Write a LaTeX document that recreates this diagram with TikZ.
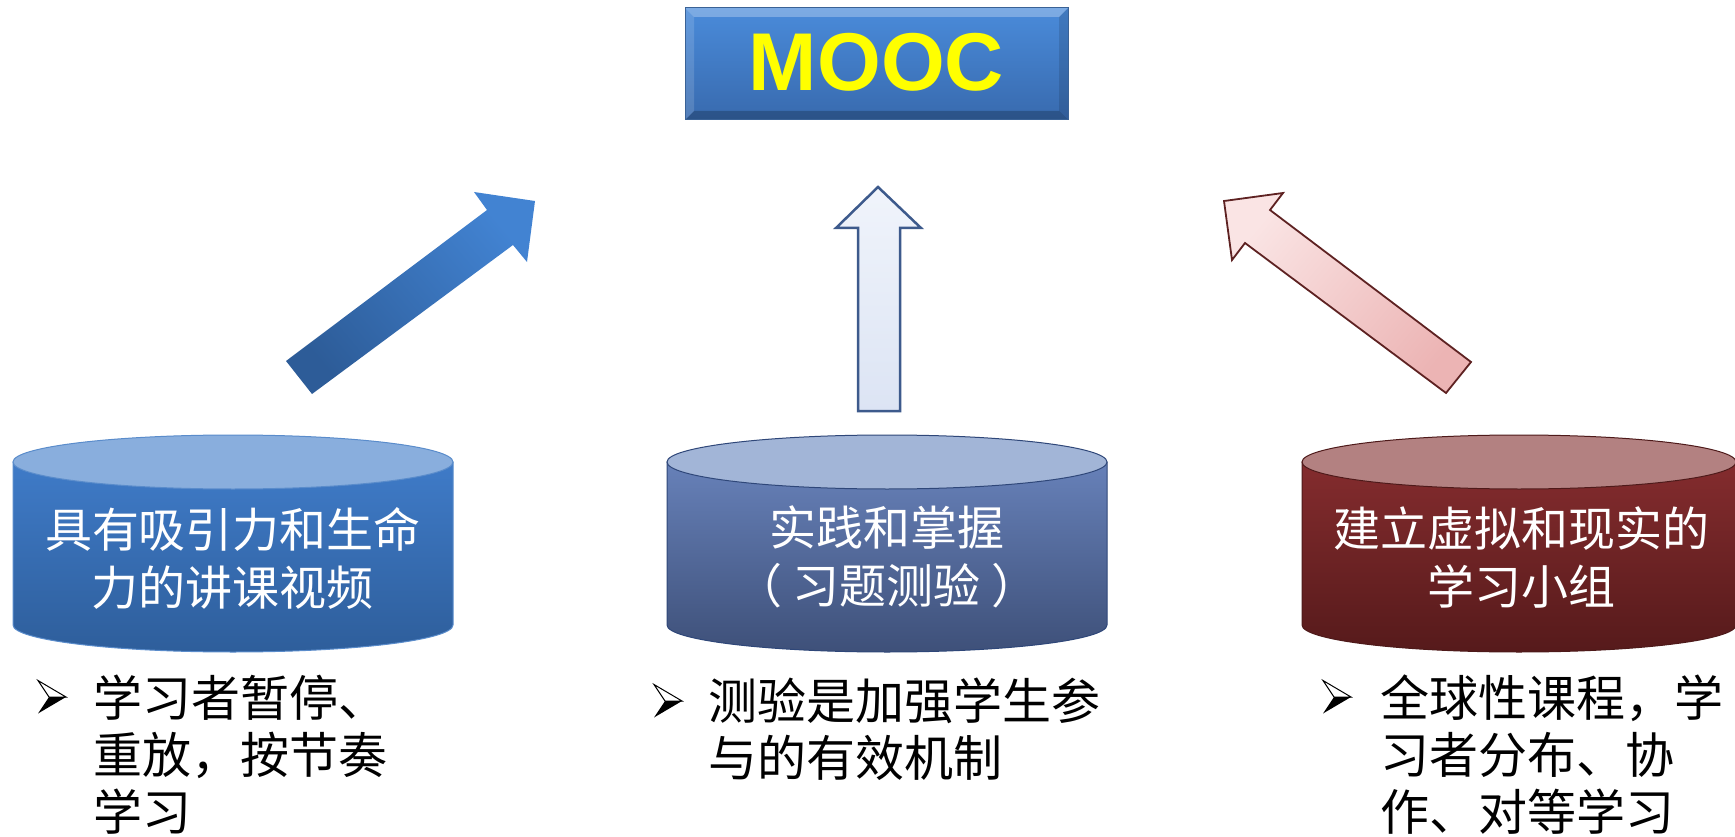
\documentclass[tikz,border=0pt]{standalone}
\usepackage{fontspec}
\newfontfamily\cjk{Noto Sans CJK SC}
\newfontfamily\latinsans{Liberation Sans}
\definecolor{lbtop}{HTML}{3F7BC8}
\definecolor{lbbot}{HTML}{2E5E9B}
\definecolor{lbcap}{HTML}{89AEDD}
\definecolor{lbline}{HTML}{5A8CCB}
\definecolor{mbtop}{HTML}{6781B9}
\definecolor{mbbot}{HTML}{3E5079}
\definecolor{mbcap}{HTML}{A2B5D7}
\definecolor{mbline}{HTML}{2F4779}
\definecolor{rbtop}{HTML}{842C2E}
\definecolor{rbbot}{HTML}{561A1B}
\definecolor{rbcap}{HTML}{B38181}
\definecolor{rbline}{HTML}{4E1A1A}
\definecolor{arrowlight}{HTML}{4283D2}
\definecolor{arrowdark}{HTML}{2D5C98}
\definecolor{midtop}{HTML}{F0F4FB}
\definecolor{midbot}{HTML}{DCE4F4}
\definecolor{midline}{HTML}{3D5A8C}
\definecolor{pinklight}{HTML}{FAE4E4}
\definecolor{pinkdark}{HTML}{ECB4B4}
\definecolor{pinkline}{HTML}{5E2222}
\definecolor{moocA}{HTML}{4A8BDA}
\definecolor{moocB}{HTML}{386AAE}
\definecolor{moocline}{HTML}{3A6296}
\definecolor{moocyellow}{HTML}{FFFF00}
\newcommand\mycyl[6]{%
  \draw[#6, line width=1pt, top color=#3, bottom color=#4]
    (#1-#2,462) -- (#1-#2,625)
    .. controls (#1-#2,639.9) and (#1-0.5523*#2,652) .. (#1,652)
    .. controls (#1+0.5523*#2,652) and (#1+#2,639.9) .. (#1+#2,625)
    -- (#1+#2,462) -- cycle;
  \draw[#6, line width=1pt, fill=#5] (#1,462) ellipse [x radius=#2, y radius=27];
}
\begin{document}
\begin{tikzpicture}[x=1pt,y=-1pt,
  cyltext/.style={text=white, font=\cjk\fontsize{47}{58}\selectfont, align=center, inner sep=0pt},
  bultext/.style={text=black, font=\cjk\fontsize{49}{57}\selectfont, align=left, inner sep=0pt, anchor=west},
  bularrow/.pic={
    \draw[black, line width=1pt, fill=white, line join=miter] (-14,-16.5) -- (14,0) -- (-3,0) -- cycle;
    \fill[black] (-14,16.5) -- (14,0) -- (-3,0) -- cycle;
  },
  blockarrow/.style={line join=miter}
]
\useasboundingbox (0,0) rectangle (1735,837);
\fill[white] (0,0) rectangle (1735,837);

% MOOC box
\shade[top color=moocA, bottom color=moocB] (685,8) rectangle (1068,120);
\fill[white, opacity=0.28] (685,8) -- (1068,8) -- (1059,17) -- (694,17) -- cycle;
\fill[white, opacity=0.14] (685,8) -- (694,17) -- (694,111) -- (685,120) -- cycle;
\fill[black, opacity=0.12] (1068,8) -- (1068,120) -- (1059,111) -- (1059,17) -- cycle;
\fill[black, opacity=0.22] (685,120) -- (1068,120) -- (1059,111) -- (694,111) -- cycle;
\draw[moocline, line width=1pt] (685,8) rectangle (1068,120);
\node[text=moocyellow, font=\latinsans\bfseries\fontsize{82}{82}\selectfont, inner sep=0pt] (mooc) at (876.5,62) {MOOC};

% block arrows
\shade[blockarrow, top color=arrowlight, bottom color=arrowdark, shading angle=-50]
  (286,361) -- (487,210) -- (474,192) -- (535,201) -- (527,262) -- (513,245) -- (312,394) -- cycle;
\draw[blockarrow, midline, line width=2.5pt, top color=midtop, bottom color=midbot]
  (878,187) -- (921,228) -- (900,228) -- (900,411) -- (858,411) -- (858,228) -- (836,228) -- cycle;
\draw[blockarrow, pinkline, line width=1.8pt, top color=pinklight, bottom color=pinkdark, shading angle=50]
  (1224,201) -- (1283,193) -- (1270,210) -- (1471,362) -- (1446,393) -- (1245,243) -- (1232,260) -- cycle;

% cylinders
\mycyl{233}{220}{lbtop}{lbbot}{lbcap}{lbline}
\mycyl{887}{220}{mbtop}{mbbot}{mbcap}{mbline}
\mycyl{1519}{217}{rbtop}{rbbot}{rbcap}{rbline}

\node[cyltext] (cylL) at (233,558) {具有吸引力和生命\\力的讲课视频};
\node[cyltext] (cylM) at (887,557) {实践和掌握\\（ 习题测验 ）};
\node[cyltext] (cylR) at (1521,557) {建立虚拟和现实的\\学习小组};

% bullets
\pic at (52,697) {bularrow};
\node[bultext] (bulL) at (93,755) {学习者暂停、\\重放，按节奏\\学习};
\pic at (668,701) {bularrow};
\node[bultext] (bulM) at (708,729) {测验是加强学生参\\与的有效机制};
\pic at (1337,697) {bularrow};
\node[bultext] (bulR) at (1380,755) {全球性课程，学\\习者分布、协\\作、对等学习};
\end{tikzpicture}
\end{document}
